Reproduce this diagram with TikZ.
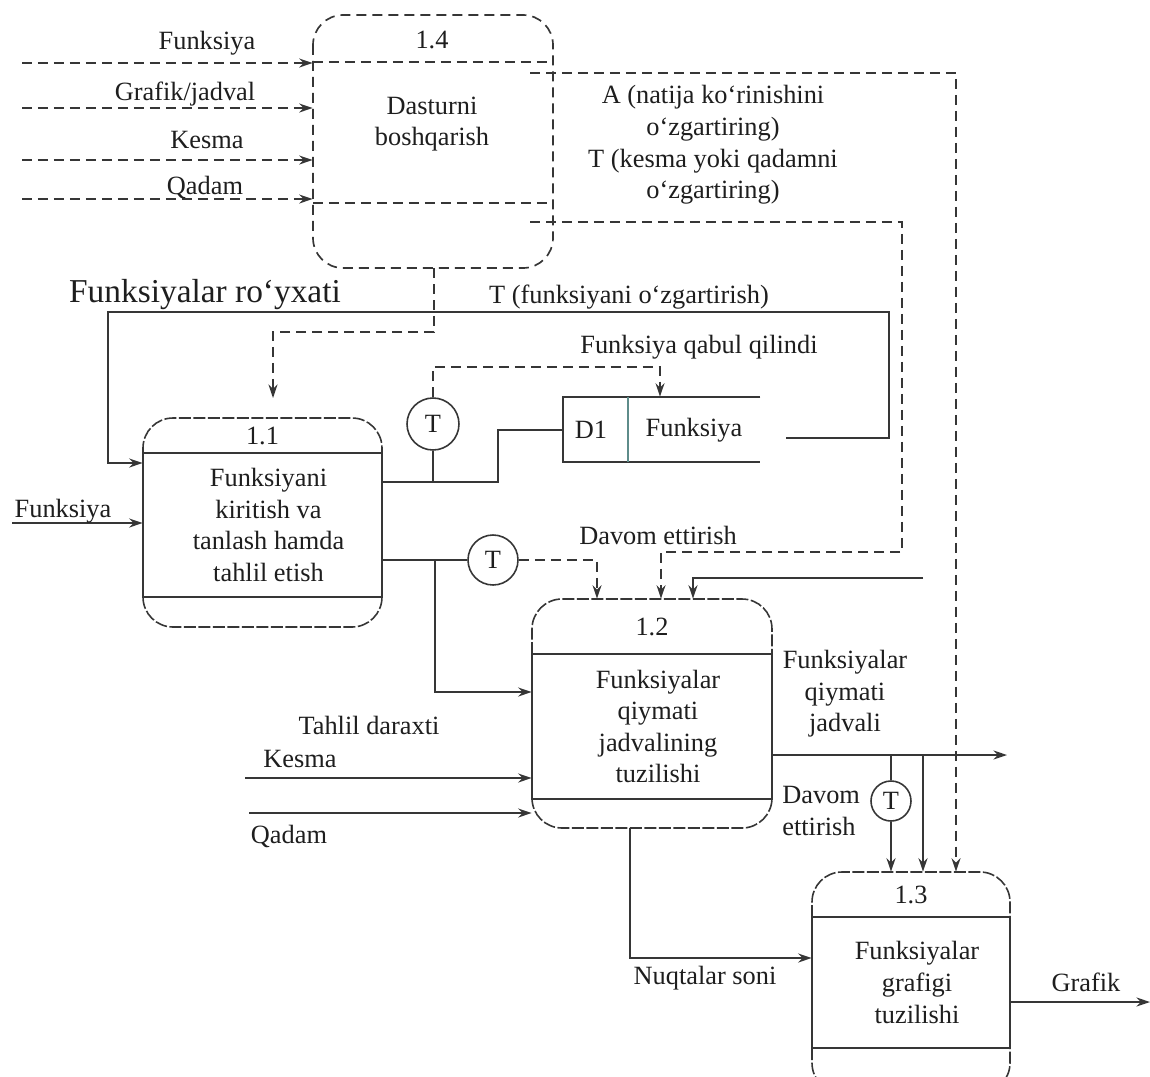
\documentclass[tikz,border=0pt]{standalone}
\usepackage{fontspec}
\setmainfont{Liberation Serif}
\usetikzlibrary{arrows.meta}
\definecolor{ink}{HTML}{363636}
\definecolor{txt}{HTML}{1E1E1E}
\definecolor{divcol}{HTML}{5E8C8A}
\newcommand{\procbox}[9]{%
  \node[boxarea, minimum width={(#3-#2)*0.02cm}, minimum height={(#7-#4)*0.02cm}] (#1) at ({(#2+#3)/2},{(#4+#7)/2}) {};
  \draw[capline, rounded corners=0.6cm] (#2,#5) -- (#2,#4) -- (#3,#4) -- (#3,#5);
  \draw[boxline] (#2,#5) rectangle (#3,#6);
  \draw[capline, rounded corners=0.6cm] (#2,#6) -- (#2,#7) -- (#3,#7) -- (#3,#6);
  \node[lbl] (#1-num) at ({(#2+#3)/2},{(#4+#5)/2}) {#8};
  \node[lbl] (#1-txt) at ({(#2+#3)/2+6},{(#5+#6)/2}) {#9};
}
\begin{document}
\begin{tikzpicture}[x=0.02cm, y=-0.02cm, color=ink,
  boxline/.style={line width=1.1pt},
  capline/.style={line width=0.9pt, dash pattern=on 0.24cm off 0.05cm},
  flow/.style={line width=1.2pt},
  ctl/.style={line width=0.95pt, dash pattern=on 0.2cm off 0.12cm},
  arr/.style={-{Stealth[length=0.27cm,width=0.18cm]}},
  lbl/.style={text=txt, font=\fontsize{15}{18}\selectfont, inner sep=0pt, align=center},
  boxarea/.style={draw=none, inner sep=0pt, rectangle},
  tnode/.style={circle, draw=ink, line width=0.9pt, inner sep=0pt, text=txt, font=\fontsize{15}{18}\selectfont},
]
\useasboundingbox (0,0) rectangle (1150,1076);
\clip (0,0) rectangle (1150,1076);
\fill[white] (0,0) rectangle (1150,1076);

% ---------- process 1.4 (dashed)
\node[boxarea, minimum width=4.8cm, minimum height=5.06cm] (b14) at (433,141.5) {};
\draw[ctl, rounded corners=0.6cm] (313,15) rectangle (553,268);
\draw[ctl] (313,62) -- (553,62);
\draw[ctl] (313,203) -- (553,203);
\node[lbl] (b14-num) at (432,40) {1.4};
\node[lbl] (b14-txt) at (432,124) {Dasturni\\boshqarish};

% ---------- process boxes
\procbox{b11}{143}{382}{418}{453}{597}{627}{1.1}{Funksiyani\\kiritish va\\tanlash hamda\\tahlil etish}
\procbox{b12}{532}{772}{599}{654}{799}{828}{1.2}{Funksiyalar\\qiymati\\jadvalining\\tuzilishi}
\procbox{b13}{812}{1010}{872}{917}{1048}{1093}{1.3}{Funksiyalar\\grafigi\\tuzilishi}

% ---------- data store D1
\node[boxarea, minimum width=3.94cm, minimum height=1.3cm] (d1s) at (661.5,429.5) {};
\draw[boxline] (d1s.north east) -- (d1s.north west) -- (d1s.south west) -- (d1s.south east);
\coordinate (dv1) at (628,397); \coordinate (dv2) at (628,462);
\draw[divcol, line width=0.8pt] (dv1) -- (dv2);
\node[lbl] (d1id) at (591,430) {D1};
\node[lbl] (d1name) at (694,430) {Funksiya};

% ---------- inputs to 1.4
\coordinate (in1) at (22,63);
\coordinate (in2) at (22,108);
\coordinate (in3) at (22,160);
\coordinate (in4) at (22,199);
\draw[ctl,arr] (in1) -- (in1 -| b14.west);
\draw[ctl,arr] (in2) -- (in2 -| b14.west);
\draw[ctl,arr] (in3) -- (in3 -| b14.west);
\draw[ctl,arr] (in4) -- (in4 -| b14.west);
\node[lbl] (l-in1) at (207,43) {Funksiya};
\node[lbl] (l-in2) at (185,94) {Grafik/jadval};
\node[lbl] (l-in3) at (207,140) {Kesma};
\node[lbl] (l-in4) at (205,187) {Qadam};

% ---------- 1.4 -> 1.3 (dashed)
\coordinate (a0) at (530,73); \coordinate (a1) at (956,73);
\draw[ctl,arr] (a0) -- (a1) -- (a1 |- b13.north);
% ---------- 1.4 -> 1.2 (dashed)
\coordinate (c0) at (530,222); \coordinate (c1) at (902,222);
\coordinate (c2) at (902,552); \coordinate (c3) at (661,552);
\draw[ctl,arr] (c0) -- (c1) -- (c2) -- (c3) -- (c3 |- b12.north);
\node[lbl] (l-a) at (713,145) {A (natija ko‘rinishini\\o‘zgartiring)\\T (kesma yoki qadamni\\o‘zgartiring)};
\node[lbl] (l-dav1) at (658,535) {Davom ettirish};

% ---------- 1.4 -> 1.1 (dashed)
\coordinate (e0) at (434,268); \coordinate (e1) at (434,332);
\coordinate (e2) at (273,332); \coordinate (e3) at (273,398);
\draw[ctl,arr] (e0) -- (e1) -- (e2) -- (e3);

% ---------- T1 and D1
\node[tnode, minimum size=1.04cm] (t1) at (433,424) {T};
\coordinate (f1) at (433,367); \coordinate (f2) at (660,367);
\draw[ctl,arr] (t1.north) -- (f1) -- (f2) -- (f2 |- d1s.north);
\node[lbl] (l-qabul) at (699,347) {Funksiya qabul qilindi};
\coordinate (g0) at (382,482); \coordinate (g1) at (498,482); \coordinate (g2) at (498,430);
\draw[flow] (g0) -- (g1) -- (g2) -- (g2 -| d1s.west);
\coordinate (gj) at (433,482);
\draw[flow] (t1.south) -- (gj);

% ---------- D1 -> 1.1 (Funksiyalar ro'yxati)
\coordinate (h0) at (786,438); \coordinate (h1) at (889,438);
\coordinate (h2) at (889,312); \coordinate (h3) at (108,312); \coordinate (h4) at (108,463);
\draw[flow,arr] (h0) -- (h1) -- (h2) -- (h3) -- (h4) -- (h4 -| b11.west);
\node[lbl, font=\fontsize{19}{22}\selectfont] (l-royxat) at (205,295) {Funksiyalar ro‘yxati};
\node[lbl] (l-tfunk) at (629,297) {T (funksiyani o‘zgartirish)};

% ---------- Funksiya -> 1.1
\coordinate (k0) at (12,523);
\draw[flow,arr] (k0) -- (k0 -| b11.west);
\node[lbl] (l-funk) at (63,511) {Funksiya};

% ---------- 1.1 -> T2 -> 1.2
\node[tnode, minimum size=1cm] (t2) at (493,560) {T};
\coordinate (m0) at (382,560);
\draw[flow] (m0) -- (t2.west);
\coordinate (mj) at (435,560); \coordinate (m1) at (435,692);
\draw[flow,arr] (mj) -- (m1) -- (m1 -| b12.west);
\node[lbl] (l-tahlil) at (369,725) {Tahlil daraxti};
\coordinate (n1) at (597,560);
\draw[ctl,arr] (t2.east) -- (n1) -- (n1 |- b12.north);

% ---------- Kesma, Qadam -> 1.2
\coordinate (p0) at (245,778);
\draw[flow,arr] (p0) -- (p0 -| b12.west);
\node[lbl] (l-kesma) at (300,759) {Kesma};
\coordinate (q0) at (249,813);
\draw[flow,arr] (q0) -- (q0 -| b12.west);
\node[lbl] (l-qadam) at (289,836) {Qadam};

% ---------- free line into 1.2 top
\coordinate (r0) at (923,578); \coordinate (r1) at (693,578);
\draw[flow,arr] (r0) -- (r1) -- (r1 |- b12.north);

% ---------- 1.2 -> out / 1.3
\coordinate (s0) at (772,755); \coordinate (s1) at (1007,755);
\draw[flow,arr] (s0) -- (s1);
\node[lbl] (l-jadv) at (845,694) {Funksiyalar\\qiymati\\jadvali};
\node[tnode, minimum size=0.8cm] (t3) at (891,801) {T};
\coordinate (sj1) at (891,755);
\draw[flow] (sj1) -- (t3.north);
\draw[flow,arr] (t3.south) -- (t3.south |- b13.north);
\coordinate (sj2) at (923,755);
\draw[flow,arr] (sj2) -- (sj2 |- b13.north);
\node[lbl, align=left, anchor=west] (l-dav2) at (782,811) {Davom\\ettirish};

% ---------- 1.2 -> 1.3 (Nuqtalar soni)
\coordinate (u0) at (630,828); \coordinate (u1) at (630,958);
\draw[flow,arr] (u0) -- (u1) -- (u1 -| b13.west);
\node[lbl] (l-nuq) at (705,978) {Nuqtalar soni};

% ---------- 1.3 -> Grafik
\coordinate (w0) at (1010,1002); \coordinate (w1) at (1150,1002);
\draw[flow,arr] (w0) -- (w1);
\node[lbl] (l-graf) at (1086,982) {Grafik};
\end{tikzpicture}
\end{document}
